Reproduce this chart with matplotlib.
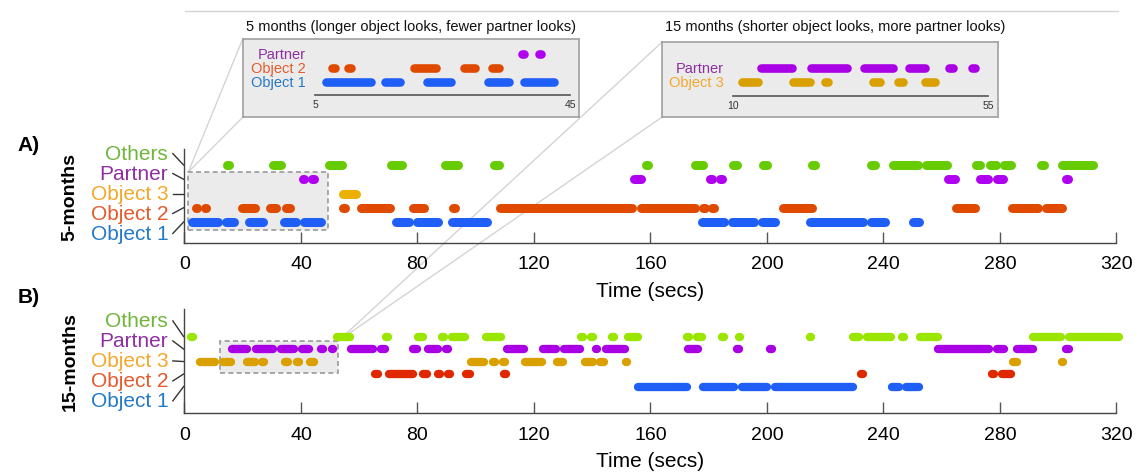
import matplotlib.pyplot as plt
import matplotlib.transforms as mtransforms
from matplotlib.patches import Rectangle, ConnectionPatch
from matplotlib.lines import Line2D

plt.rcParams['font.family'] = ['Liberation Sans', 'DejaVu Sans']

rows = ['Object 1', 'Object 2', 'Object 3', 'Partner', 'Others']
label_colors = ['#2479c8', '#e45a2c', '#f3a82c', '#8e2fa0', '#70b53c']
colors_5m = ['#1f5ff8', '#e04a00', '#ebb000', '#b000f0', '#66cc00']
colors_15m = ['#1f5ff8', '#e02800', '#d9a000', '#aa00e6', '#9ae600']

# look intervals (start, end) in seconds, 5 months
m5_obj1 = [(2.7, 11.4), (14.1, 17.1), (22.2, 26.9), (34.1, 38.2), (41.0, 46.9),
           (72.7, 77.2), (79.9, 86.9), (91.9, 103.7), (177.8, 185.4), (188.1, 195.6),
           (198.4, 202.8), (214.8, 232.9), (235.6, 240.6), (250.2, 252.2)]
m5_obj2 = [(3.8, 4.4), (6.9, 7.5), (19.8, 24.1), (29.4, 31.5), (34.9, 36.3),
           (54.5, 55.1), (60.5, 70.7), (78.6, 82.3), (92.3, 92.9), (108.5, 153.8),
           (156.9, 175.3), (178.1, 178.7), (181.2, 181.8), (205.5, 215.5),
           (265.0, 271.4), (284.2, 292.9), (295.7, 301.2)]
m5_obj3 = [(54.5, 59.0)]
m5_partner = [(40.6, 41.1), (43.9, 44.4), (154.3, 156.7), (180.4, 181.0), (183.8, 184.4),
              (262.3, 264.6), (273.3, 276.0), (278.9, 281.1), (302.5, 303.3)]
m5_others = [(14.7, 15.2), (30.5, 33.2), (49.6, 54.1), (71.0, 74.6), (89.6, 94.0),
             (106.2, 107.9), (158.3, 159.3), (175.3, 178.1), (188.5, 189.6), (198.8, 199.9),
             (215.6, 216.6), (235.7, 237.2), (243.1, 251.8), (254.6, 261.9), (271.6, 273.1),
             (276.6, 278.7), (281.4, 283.8), (294.2, 295.2), (301.4, 311.8)]

# 15 months
m15_obj1 = [(155.8, 172.4), (178.0, 188.8), (191.5, 199.9), (202.6, 229.5),
            (243.0, 245.2), (247.9, 252.2)]
m15_obj2 = [(65.4, 66.5), (70.2, 78.3), (82.0, 83.1), (87.2, 87.8), (90.5, 91.1),
            (96.8, 98.1), (109.8, 110.4), (232.4, 233.0), (277.2, 277.8), (280.6, 283.8)]
m15_obj3 = [(5.3, 10.6), (13.3, 15.9), (21.6, 24.3), (26.7, 27.3), (34.5, 35.7),
            (38.6, 39.4), (43.0, 44.5), (98.5, 102.9), (105.9, 106.5), (109.3, 109.9),
            (116.8, 122.8), (128.0, 129.8), (137.6, 140.2), (142.8, 144.1), (151.5, 152.1),
            (284.4, 285.9), (301.2, 301.8)]
m15_partner = [(16.4, 21.4), (24.5, 30.3), (33.0, 37.7), (40.4, 42.9), (46.8, 47.4),
               (50.5, 51.1), (57.0, 64.6), (67.4, 69.0), (78.6, 80.0), (83.6, 86.9),
               (89.8, 90.6), (110.6, 116.4), (123.2, 127.5), (130.3, 135.7), (141.2, 141.8),
               (144.6, 151.3), (173.0, 176.2), (189.7, 190.3), (201.0, 201.8),
               (258.8, 276.3), (279.0, 281.5), (285.9, 291.2), (302.5, 303.8)]
m15_others = [(2.4, 3.0), (52.3, 56.8), (69.2, 69.8), (80.3, 82.0), (88.5, 89.2),
              (91.9, 96.4), (103.5, 108.6), (136.2, 136.8), (139.6, 140.2), (146.8, 147.4),
              (152.3, 155.6), (172.6, 173.2), (175.8, 177.7), (184.5, 185.1), (190.3, 190.9),
              (214.6, 215.2), (229.6, 231.5), (234.3, 242.6), (246.3, 246.9), (252.4, 258.6),
              (291.4, 301.0), (303.7, 320.8)]

data_5m = [m5_obj1, m5_obj2, m5_obj3, m5_partner, m5_others]
data_15m = [m15_obj1, m15_obj2, m15_obj3, m15_partner, m15_others]

xticks = [0, 40, 80, 120, 160, 200, 240, 280, 320]

# zoom boxes (time range, row range) and inset x ranges
box_5m = (1.3, 49.4, -0.56, 3.5)
box_15m = (12.2, 52.8, 1.05, 3.65)
inset_5m_xlim = (0.6, 50.0)
inset_15m_xlim = (11.8, 53.2)


def draw_rows(ax, data, colors, lw, idx=None, clip=False):
    if idx is None:
        idx = range(len(data))
    for k, i in enumerate(idx):
        for s, e in data[i]:
            ax.plot([s, e], [k, k], color=colors[i], lw=lw, solid_capstyle='round',
                    clip_on=clip, zorder=3)


def main_panel(ax, data, colors, lw, ylim, lab_c, lab_sp, box, letter, letter_y, name):
    ax.set_facecolor('none')
    draw_rows(ax, data, colors, lw)
    ax.set_xlim(0, 320)
    ax.set_ylim(*ylim)
    ax.set_xticks(xticks)
    ax.tick_params(axis='x', direction='in', length=8, width=1, color='#555555',
                   labelsize=14, pad=9)
    ax.set_yticks([])
    for sp in ['top', 'right']:
        ax.spines[sp].set_visible(False)
    for sp in ['left', 'bottom']:
        ax.spines[sp].set_color('#444444')
        ax.spines[sp].set_linewidth(1)
    ax.set_xlabel('Time (secs)', fontsize=15, labelpad=6)
    tr = mtransforms.blended_transform_factory(ax.transAxes, ax.transData)
    for i, r in enumerate(rows):
        ly = lab_c + (i - 2) * lab_sp
        ax.text(-0.0175, ly, r, transform=tr, ha='right', va='center',
                fontsize=15, color=label_colors[i])
        ax.add_line(Line2D([-0.0125, -0.001], [ly, i], transform=tr, color='#333333',
                           lw=1, clip_on=False))
    x0, x1, y0, y1 = box
    ax.add_patch(Rectangle((x0, y0), x1 - x0, y1 - y0, facecolor='#ebebeb',
                           edgecolor='#999999', ls=(0, (3, 2)), lw=1.2, zorder=1))
    ax.text(-0.179, letter_y, letter, transform=ax.transAxes, fontsize=15,
            fontweight='bold', ha='left', va='center')
    ax.text(-0.123, 0.5, name, transform=ax.transAxes, fontsize=14,
            fontweight='bold', rotation=90, ha='center', va='center')


def inset(fig, boxpos, innerpos, data, colors, idx, xlim, ylim, ticklabels, title):
    bax = fig.add_axes(boxpos)
    bax.set_facecolor('#ebebeb')
    bax.set_xticks([])
    bax.set_yticks([])
    for sp in bax.spines.values():
        sp.set_color('#a0a0a0')
        sp.set_linewidth(1.2)
    iax = fig.add_axes(innerpos)
    iax.set_facecolor('none')
    draw_rows(iax, data, colors, 6.2, idx=idx, clip=True)
    iax.set_xlim(*xlim)
    iax.set_ylim(*ylim)
    iax.set_xticks(list(xlim), ticklabels)
    iax.tick_params(axis='x', length=0, labelsize=7.5, pad=3, labelcolor='#333333')
    iax.set_yticks([])
    for sp in ['top', 'right', 'left']:
        iax.spines[sp].set_visible(False)
    iax.spines['bottom'].set_color('#555555')
    iax.spines['bottom'].set_linewidth(1.2)
    tr = mtransforms.blended_transform_factory(iax.transAxes, iax.transData)
    for k, i in enumerate(idx):
        iax.text(-0.035, k, rows[i], transform=tr, ha='right', va='center',
                 fontsize=10.5, color=label_colors[i])
    fig.text(boxpos[0] + 0.003, 0.944, title, fontsize=10.5, color='#111111',
             ha='left', va='center')
    return bax


fig = plt.figure(figsize=(11.41, 4.77), dpi=100)

axA = fig.add_axes([0.1617, 0.4885, 0.8168, 0.197])
main_panel(axA, data_5m, colors_5m, 6.5, (-1.47, 5.12), 2.0, 1.4, box_5m,
           'A)', 1.05, '5-months')

axB = fig.add_axes([0.1617, 0.132, 0.8168, 0.218])
main_panel(axB, data_15m, colors_15m, 6.0, (-2.12, 6.2), 2.05, 1.6, box_15m,
           'B)', 1.12, '15-months')

ins1 = inset(fig, [0.2127, 0.752, 0.295, 0.164], [0.2761, 0.7994, 0.2235, 0.1084],
             data_5m, colors_5m, [0, 1, 3], inset_5m_xlim, (-0.94, 2.79), ['5', '45'],
             '5 months (longer object looks, fewer partner looks)')
ins2 = inset(fig, [0.58, 0.752, 0.295, 0.157], [0.6422, 0.796, 0.224, 0.1055],
             data_15m, colors_15m, [2, 3], inset_15m_xlim, (-1.07, 2.6), ['10', '55'],
             '15 months (shorter object looks, more partner looks)')

# connector lines from zoom boxes to insets
for yb in [0, 1]:
    c = ConnectionPatch(xyA=(box_5m[0], box_5m[3]), coordsA=axA.transData,
                        xyB=(0, yb), coordsB=ins1.transAxes, color='#d4d4d4', lw=1, zorder=-1)
    fig.add_artist(c)
    c = ConnectionPatch(xyA=(box_15m[1], box_15m[3]), coordsA=axB.transData,
                        xyB=(0, yb), coordsB=ins2.transAxes, color='#d4d4d4', lw=1, zorder=-1)
    fig.add_artist(c)

fig.add_artist(Line2D([0.162, 0.98], [0.9755, 0.9755], color='#d4d4d4', lw=1))

fig.savefig('out.png', dpi=100)
